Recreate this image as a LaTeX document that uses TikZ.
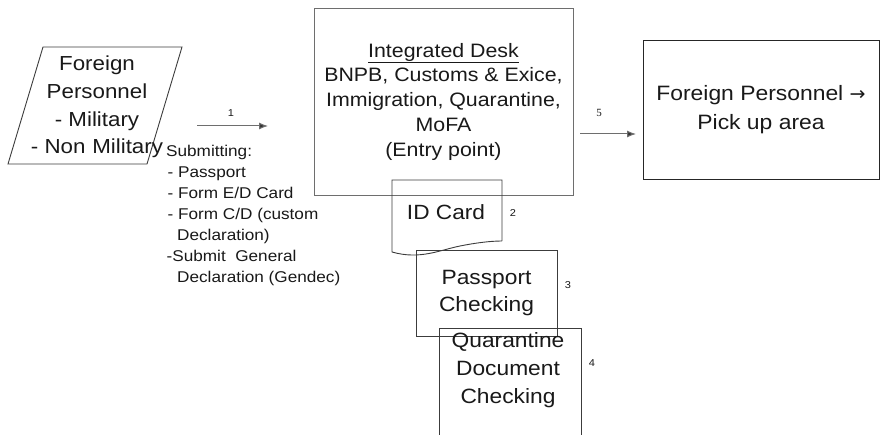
\documentclass[tikz,border=0pt]{standalone}
\usepackage{fontspec}
\setmainfont{Liberation Sans}[FakeStretch=1.1]
\newfontfamily\numfont{Liberation Serif}
\newfontfamily\arrowfont{DejaVu Sans}
\usetikzlibrary{arrows.meta}
\definecolor{lineg}{RGB}{110,110,110}
\definecolor{lined}{RGB}{60,60,60}
\definecolor{txt}{RGB}{25,25,25}
\tikzset{
  shapeline/.style={draw=lined, line width=0.9pt},
  boxnode/.style={shapeline, rectangle, inner sep=0pt, align=center, text=txt},
  txtnode/.style={inner sep=0pt, align=center, text=txt},
  numlabel/.style={inner sep=0pt, text=txt, font=\fontsize{10}{12}\selectfont},
  flow/.style={draw=lineg, line width=1pt, -{Latex[length=9pt,width=7pt,fill=black!80]}},
}
\begin{document}
\begin{tikzpicture}[x=1pt,y=-1pt]
\clip (0,0) rectangle (882,435);
\fill[white] (0,0) rectangle (882,435);

% Foreign personnel parallelogram
\draw[shapeline] (43,47) -- (182,47) -- (147,164) -- (8,164) -- cycle;
\node[txtnode, font=\fontsize{20.3}{27.7}\selectfont] (fp) at (97,107)
  {Foreign\\Personnel\\- Military\\- Non\,\,Military};

% arrow 1
\coordinate (a1s) at (197,126);
\coordinate (a1e) at (268,126);
\draw[flow] (a1s) -- (a1e);
\node[numlabel] (l1) at (231,113) {1};

% submitting list
\node[inner sep=0pt, anchor=north west, align=left, text=txt,
      font=\fontsize{15.6}{21}\selectfont] (sub) at (166,145)
  {Submitting:\\
   \hspace{1.5pt}- Passport\\
   \hspace{1.5pt}- Form E/D Card\\
   \hspace{1.5pt}- Form C/D (custom\\
   \hspace{11pt}Declaration)\\
   \hspace{0.5pt}-Submit\ \ General\\
   \hspace{11pt}Declaration (Gendec)};

% integrated desk
\node[boxnode, draw=lineg, minimum width=259pt, minimum height=187pt,
      font=\fontsize{19.4}{24.75}\selectfont] (desk) at (443.5,101.5)
  {\underline{Integrated Desk}\\BNPB, Customs \& Exice,\\Immigration, Quarantine,\\MoFA\\(Entry point)};

% arrow 5
\coordinate (a5s) at (580,134);
\coordinate (a5e) at (636,134);
\draw[flow] (a5s) -- (a5e);
\node[numlabel, font=\numfont\fontsize{11}{12}\selectfont] (l5) at (599,113) {5};

% pick up area
\node[boxnode, draw=black!85, minimum width=236pt, minimum height=139pt,
      font=\fontsize{20.8}{29}\selectfont] (pick) at (761,109.5)
  {Foreign Personnel {\arrowfont\fontsize{19}{29}\selectfont →}\\Pick up area};

% ID card (document shape)
\draw[shapeline] (502,241) -- (502,180) -- (392,180) -- (392,252)
  .. controls (420,260) and (440,250) .. (460,246)
  .. controls (475,243) and (490,241) .. (502,241);
\node[txtnode, font=\fontsize{20.6}{26}\selectfont] (id) at (446,212) {ID Card};
\node[numlabel] (l2) at (513,213) {2};

% passport checking
\node[boxnode, minimum width=141pt, minimum height=86pt,
      font=\fontsize{20.7}{27}\selectfont] (pass) at (486.5,293)
  {Passport\\Checking};
\node[numlabel] (l3) at (568,285) {3};

% quarantine document checking
\draw[shapeline] (439,445) -- (439,328) -- (581,328) -- (581,445);
\node[txtnode, font=\fontsize{20.7}{28}\selectfont] (qd) at (508,370)
  {Quarantine\\Document\\Checking};
\node[numlabel] (l4) at (592,363) {4};
\end{tikzpicture}
\end{document}
